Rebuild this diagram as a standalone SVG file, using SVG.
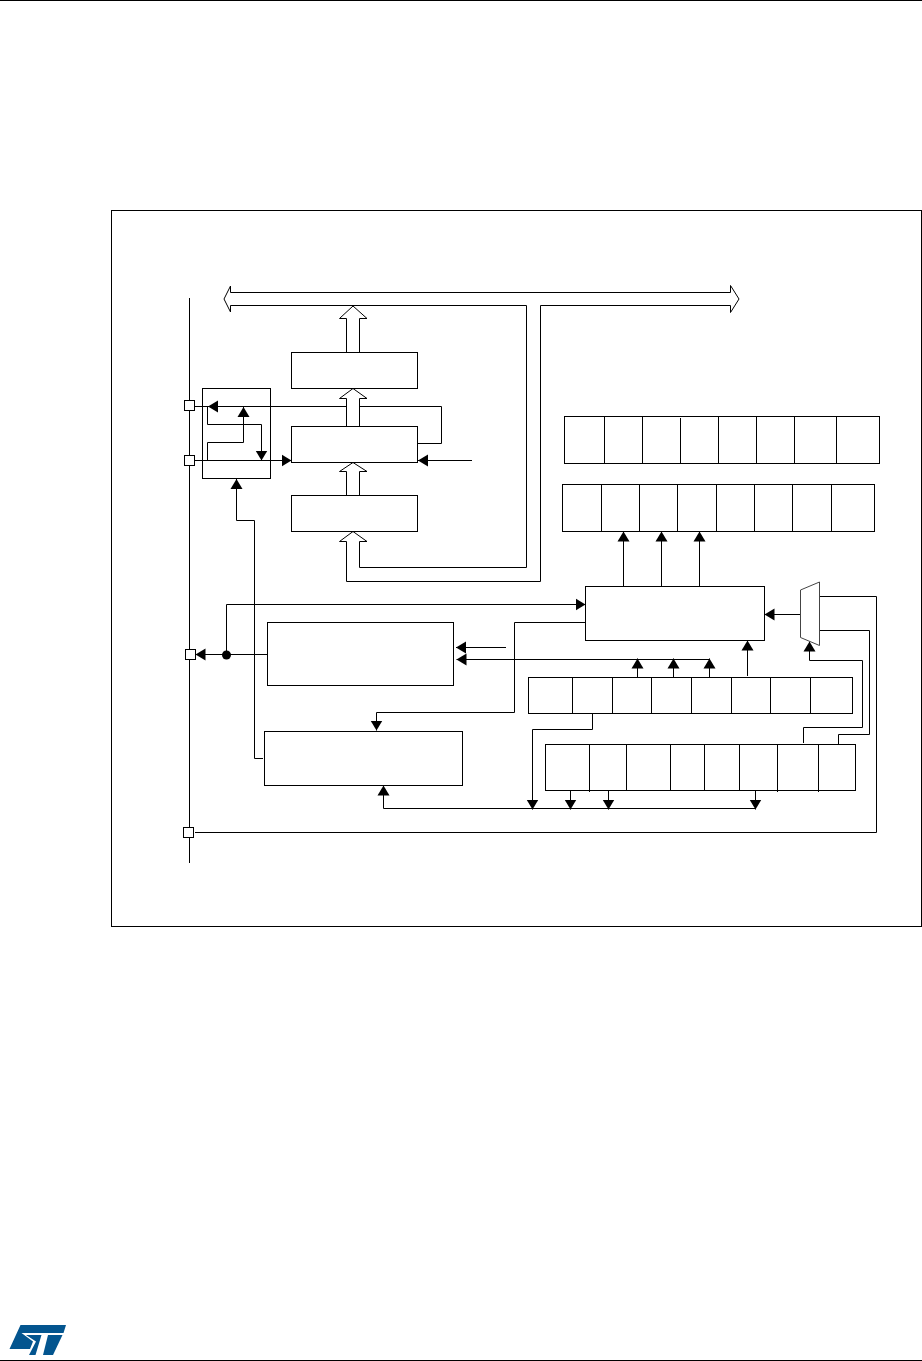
<svg xmlns="http://www.w3.org/2000/svg" width="922" height="1361" viewBox="0 0 922 1361">
<style>
.l{fill:none;stroke:#000;stroke-width:1}
.b{fill:#fff;stroke:#000;stroke-width:1}
.a{fill:none;stroke:#000;stroke-width:1;marker-end:url(#ah)}
</style>
<defs>
<marker id="ah" markerUnits="userSpaceOnUse" markerWidth="11" markerHeight="13" refX="10" refY="6.5" orient="auto"><path d="M0 0.5L10 6.5L0 12.5Z" fill="#000"/></marker>
</defs>
<rect width="922" height="1361" fill="#fff"/>
<g id="page-rules"><path class="l" d="M0 0.5H922M0 1360.5H922"/></g>
<g id="frame"><rect class="l" x="111.5" y="210.5" width="810" height="716"/></g>
<g id="connectors">
<path class="l" d="M189.5 298V863"/>
<path class="l" d="M195 406.5H208M359.5 406.5H441.5V443.5H418"/>
<path class="a" d="M346.5 406.5H208"/>
<path class="a" d="M207.5 407V424.5H261.5V460.5"/>
<path class="a" d="M207.5 460V442.5H243.5V407"/>
<path class="a" d="M195 460.5H291.5"/>
<path class="a" d="M472 460.5H418"/>
<path class="a" d="M263 758.5H254.5V520.5H236.5V479"/>
<path class="a" d="M267 654.5H195.5"/>
<path class="a" d="M226.5 655V604.5H585.5"/>
<path class="a" d="M506 647.5H456"/>
<path class="a" d="M709.5 659.5H456.5"/>
<path class="a" d="M585 622.5H514.5V712.5H376.5V730.5"/>
<path class="a" d="M623.5 586V531.5"/>
<path class="a" d="M661.5 586V531.5"/>
<path class="a" d="M699.5 586V531.5"/>
<path class="a" d="M800 614.5H764.5"/>
<path class="a" d="M637.5 677V658.5"/>
<path class="a" d="M673.5 677V658.5"/>
<path class="a" d="M709.5 677V658.5"/>
<path class="a" d="M747.5 676V640.5"/>
<path class="a" d="M803.5 743V727.5H862.5V660.5H809.5V641.5"/>
<path class="l" d="M838.5 744V734.5H869.5V630.5H819"/>
<path class="l" d="M819 596.5H876.5V832.5H195"/>
<path class="a" d="M592.5 713V729.5H532.5V809.5"/>
<path class="a" d="M755.5 808.5H383.5V785.5"/>
<path class="a" d="M570.5 790V809.5"/>
<path class="a" d="M608.5 790V809.5"/>
<path class="a" d="M755.5 790V809.5"/>
<circle cx="226.5" cy="655" r="4.5" fill="#000"/>
</g>
<g id="bus"><path class="b" d="M230.5 292.5H730.5V285.5L739 299L730.5 312.5V305.5H540.5V581.5H346.5V541.5H339.5L353 531.5L367 541.5H359.5V567.5H526.5V305.5H230.5V312L224 299L230.5 286Z"/></g>
<g id="arrow-top"><path class="b" d="M346.5 352V318.5H339.5L353 306L367 318.5H359.5V352"/></g>
<g id="arrow-mid"><path class="b" d="M346.5 426V398.5H339.5L353 388.5L367 398.5H359.5V426"/></g>
<g id="arrow-low"><path class="b" d="M346.5 495V471.5H339.5L353 462.5L367 471.5H359.5V495"/></g>
<g id="box-1"><rect class="b" x="291.5" y="352.5" width="126" height="36"/></g>
<g id="box-2"><rect class="b" x="291.5" y="426.5" width="126" height="36"/></g>
<g id="box-3"><rect class="b" x="291.5" y="495.5" width="126" height="36"/></g>
<g id="gpio-block"><rect class="l" x="202.5" y="388.5" width="68" height="90"/></g>
<g id="pin-1"><rect class="b" x="184.5" y="400.5" width="10" height="10"/></g>
<g id="pin-2"><rect class="b" x="184.5" y="455.5" width="10" height="10"/></g>
<g id="pin-3"><rect class="b" x="185.5" y="649.5" width="10" height="10"/></g>
<g id="pin-4"><rect class="b" x="183.5" y="827.5" width="10" height="10"/></g>
<g id="box-4"><rect class="l" x="267.5" y="622.5" width="186" height="63"/></g>
<g id="box-5"><rect class="l" x="264.5" y="731.5" width="198" height="54"/></g>
<g id="box-6"><rect class="l" x="585.5" y="586.5" width="179" height="54"/></g>
<g id="mux"><path class="b" d="M800.5 590L819.5 582V645.5L800.5 637.5Z" style="stroke:#444"/></g>
<g id="reg-1"><rect class="l" x="564.5" y="416.5" width="315" height="47"/><path class="l" d="M604.5 416.5V463.5M642.5 416.5V463.5M680.5 418V463.5M718.5 416.5V463.5M756.5 416.5V463.5M794.5 416.5V463.5M836.5 416.5V463.5"/></g>
<g id="reg-2"><rect class="l" x="562.5" y="484.5" width="312" height="47"/><path class="l" d="M601.5 484.5V531.5M639.5 484.5V531.5M677.5 484.5V531.5M716.5 484.5V531.5M754.5 484.5V531.5M792.5 484.5V531.5M831.5 484.5V531.5"/></g>
<g id="reg-3"><rect class="l" x="528.5" y="677.5" width="324" height="36"/><path class="l" d="M572.5 677.5V713.5M612.5 677.5V713.5M651.5 677.5V713.5M691.5 677.5V713.5M731.5 677.5V713.5M770.5 677.5V713.5M810.5 677.5V713.5"/></g>
<g id="reg-4"><rect class="l" x="545.5" y="744.5" width="310" height="46"/><path class="l" d="M589.5 744.5V792M626.5 744.5V790.5M670.5 744.5V790.5M704.5 744.5V790.5M739.5 744.5V790.5M777.5 744.5V792M818.5 744.5V792"/></g>
<g id="logo" fill="#03558f"><path d="M20.5 1325H66L63.5 1333H21.5L33 1341.5L30 1349H9.5Z"/><path d="M26 1335H41.5L35.5 1355H29L36 1341.5Z"/><path d="M48 1335H62.5L53 1355H43Z"/></g>
</svg>
